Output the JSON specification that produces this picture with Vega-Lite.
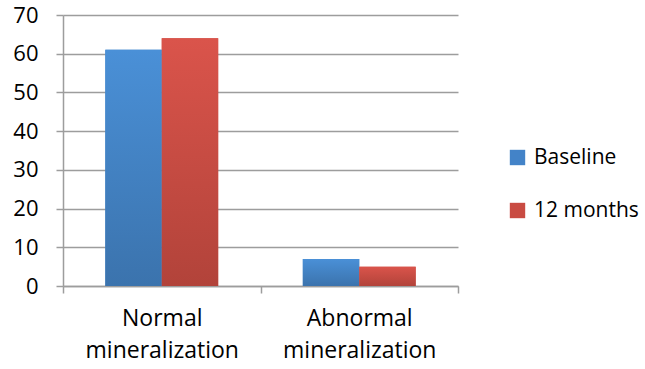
{
  "$schema": "https://vega.github.io/schema/vega-lite/v6.json",
  "width": 395,
  "height": 271,
  "autosize": {"type": "none"},
  "padding": {"left": 63, "top": 15, "right": 187, "bottom": 83},
  "background": "white",
  "config": {
    "view": {"stroke": null},
    "font": "Open Sans",
    "axis": {"labelFont": "Open Sans", "labelColor": "#000000"},
    "legend": {"labelFont": "Open Sans", "labelColor": "#000000"}
  },
  "data": {
    "values": [
      {"category": "Normal mineralization", "series": "Baseline", "value": 61},
      {"category": "Normal mineralization", "series": "12 months", "value": 64},
      {"category": "Abnormal mineralization", "series": "Baseline", "value": 7},
      {"category": "Abnormal mineralization", "series": "12 months", "value": 5}
    ]
  },
  "encoding": {
    "x": {
      "field": "category",
      "type": "nominal",
      "sort": ["Normal mineralization", "Abnormal mineralization"],
      "scale": {"paddingInner": 0, "paddingOuter": 0},
      "axis": {
        "title": null,
        "labelAngle": 0,
        "labelExpr": "split(datum.label, ' ')",
        "labelFontSize": 23,
        "labelLineHeight": 32,
        "labelPadding": 14,
        "labelBaseline": "top",
        "tickBand": "extent",
        "tickSize": 7,
        "tickColor": "#9d9d9d",
        "tickWidth": 1.5,
        "domainColor": "#9d9d9d",
        "domainWidth": 1.5
      }
    },
    "xOffset": {
      "field": "series",
      "type": "nominal",
      "sort": ["Baseline", "12 months"],
      "scale": {"paddingInner": 0, "paddingOuter": 0.75}
    },
    "y": {
      "field": "value",
      "type": "quantitative",
      "scale": {"domain": [0, 70], "nice": false},
      "axis": {
        "title": null,
        "values": [0, 10, 20, 30, 40, 50, 60, 70],
        "labelFontSize": 22,
        "labelPadding": 18,
        "tickSize": 7,
        "tickColor": "#9d9d9d",
        "tickWidth": 1.5,
        "domainColor": "#9d9d9d",
        "domainWidth": 1.5,
        "gridColor": "#9d9d9d",
        "gridWidth": 1.5
      }
    }
  },
  "layer": [
    {
      "mark": {"type": "bar"},
      "encoding": {
        "color": {
          "field": "series",
          "type": "nominal",
          "sort": ["Baseline", "12 months"],
          "scale": {"domain": ["Baseline", "12 months"], "range": ["#4383c8", "#c94b42"]},
          "legend": {
            "title": null,
            "orient": "none",
            "legendX": 444,
            "legendY": 132,
            "symbolType": "square",
            "symbolSize": 237,
            "symbolStrokeWidth": 0,
            "labelFontSize": 21,
            "labelOffset": 6,
            "rowPadding": 31
          }
        }
      }
    },
    {
      "transform": [{"filter": "datum.series === 'Baseline'"}],
      "mark": {
        "type": "bar",
        "fill": {
          "gradient": "linear", "x1": 0, "y1": 0, "x2": 0, "y2": 1,
          "stops": [{"offset": 0, "color": "#4a90d7"}, {"offset": 1, "color": "#3b73ad"}]
        }
      }
    },
    {
      "transform": [{"filter": "datum.series === '12 months'"}],
      "mark": {
        "type": "bar",
        "fill": {
          "gradient": "linear", "x1": 0, "y1": 0, "x2": 0, "y2": 1,
          "stops": [{"offset": 0, "color": "#da544b"}, {"offset": 1, "color": "#b2433a"}]
        }
      }
    }
  ]
}
